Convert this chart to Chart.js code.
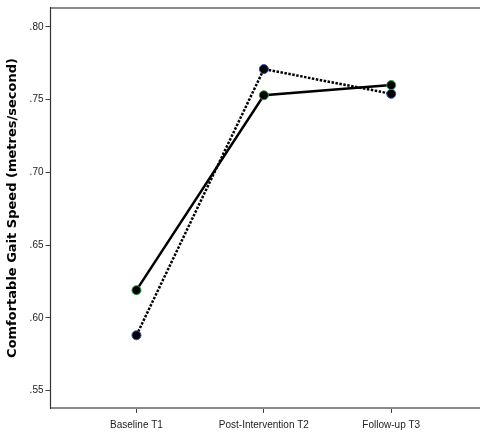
<!DOCTYPE html>
<html>
<head>
<meta charset="utf-8">
<script src="https://cdn.jsdelivr.net/npm/chart.js@4/dist/chart.umd.min.js"></script>
<style>
html,body{margin:0;padding:0;background:#fff;overflow:hidden;}
#wrap{position:relative;width:484px;height:435px;}
</style>
</head>
<body>
<div id="wrap"><canvas id="c"></canvas></div>
<script>
const categories = ['Baseline T1', 'Post-Intervention T2', 'Follow-up T3'];
const seriesSolid = [0.619, 0.753, 0.760];
const seriesDotted = [0.588, 0.771, 0.754];
const yTickValues = [0.55, 0.60, 0.65, 0.70, 0.75, 0.80];
const yTickLabels = ['.55', '.60', '.65', '.70', '.75', '.80'];
const yTitle = 'Comfortable Gait Speed (metres/second)';

const toPoints = arr => arr.map((v, i) => ({x: i + 1, y: v}));

const frame = {
  id: 'frame',
  beforeDatasetsDraw(chart) {
    const {ctx, chartArea: a} = chart;
    ctx.save();
    ctx.strokeStyle = '#8a8a8a';
    ctx.lineWidth = 2;
    ctx.beginPath();
    ctx.moveTo(a.left, a.top);
    ctx.lineTo(a.right + 5, a.top);
    ctx.moveTo(a.left, a.bottom);
    ctx.lineTo(a.right + 5, a.bottom);
    ctx.stroke();
    ctx.strokeStyle = '#333';
    ctx.lineWidth = 1.2;
    ctx.beginPath();
    ctx.moveTo(a.left, a.bottom + 1);
    ctx.lineTo(a.left, a.top - 1);
    ctx.stroke();
    ctx.restore();
  }
};

new Chart(document.getElementById('c'), {
  type: 'line',
  data: {
    datasets: [
      {
        data: toPoints(seriesSolid),
        borderColor: '#000',
        borderWidth: 2.5,
        pointRadius: 4.5,
        pointBackgroundColor: '#000',
        pointBorderColor: '#2e9b3c',
        pointBorderWidth: 1,
        tension: 0
      },
      {
        data: toPoints(seriesDotted),
        borderColor: '#000',
        borderWidth: 2.5,
        borderDash: [2.5, 1.5],
        pointRadius: 4.5,
        pointBackgroundColor: '#000',
        pointBorderColor: '#3450a8',
        pointBorderWidth: 1,
        tension: 0
      }
    ]
  },
  options: {
    responsive: true,
    maintainAspectRatio: false,
    animation: false,
    layout: {padding: {top: 0, right: 0, bottom: -2, left: 3}},
    plugins: {legend: {display: false}, tooltip: {enabled: false}},
    scales: {
      x: {
        type: 'linear',
        min: 0.325,
        max: 3.685,
        afterBuildTicks(scale) {
          scale.ticks = categories.map((c, i) => ({value: i + 1}));
        },
        grid: {display: true, drawOnChartArea: false, drawTicks: true, tickLength: 5, tickColor: '#444', tickWidth: 1},
        border: {display: false},
        ticks: {
          callback: (v) => categories[v - 1] || '',
          color: '#222',
          font: {family: 'Liberation Sans', size: 10},
          padding: 6,
          maxRotation: 0,
          autoSkip: false
        }
      },
      y: {
        type: 'linear',
        min: 0.538,
        max: 0.813,
        afterBuildTicks(scale) {
          scale.ticks = yTickValues.map(v => ({value: v}));
        },
        grid: {display: true, drawOnChartArea: false, drawTicks: true, tickLength: 5, tickColor: '#444', tickWidth: 1},
        border: {display: false},
        ticks: {
          callback: (v) => yTickLabels[yTickValues.findIndex(t => Math.abs(t - v) < 1e-9)],
          color: '#222',
          font: {family: 'Liberation Sans', size: 10},
          padding: 2
        },
        title: {
          display: true,
          text: yTitle,
          color: '#000',
          font: {family: 'DejaVu Sans', size: 13, weight: 'bold'},
          padding: {top: 2, bottom: 7}
        }
      }
    }
  },
  plugins: [frame]
});
</script>
</body>
</html>
